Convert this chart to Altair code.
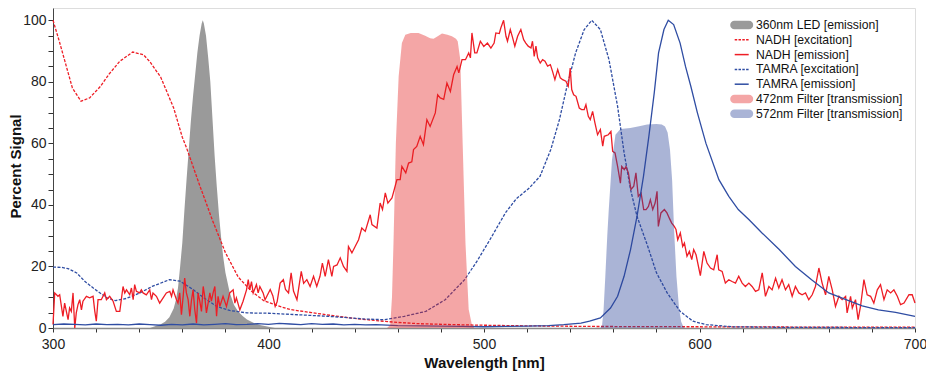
import altair as alt
import pandas as pd

LED = "360nm LED [emission]"
NEX = "NADH [excitation]"
NEM = "NADH [emission]"
TEX = "TAMRA [excitation]"
TEM = "TAMRA [emission]"
F472 = "472nm Filter [transmission]"
F572 = "572nm Filter [transmission]"
series_order = [LED, NEX, NEM, TEX, TEM, F472, F572]
series_colors = ["#9a9a9a", "#ee1d25", "#ee1d25", "#2f4da3", "#2f4da3", "#e42121", "#2a4398"]
legend_kinds = ["area", "dash", "solid", "dash", "solid", "area", "area"]
legend_swatches = ["#9a9a9a", "#ee1d25", "#ee1d25", "#2f4da3", "#2f4da3", "#f4a6a6", "#aab4d6"]

# 360nm LED emission
led_wl = [345, 347, 350, 352, 354, 356, 357, 358, 359, 360, 361, 362, 363, 364, 365, 366, 367, 368, 369, 369.5,
          370, 371, 372, 373, 374, 375, 376, 377, 378, 379, 380, 382, 384, 386, 388, 390, 393, 396, 400, 403]
led_val = [0, 0.5, 1.2, 2, 3.5, 6.3, 9, 13, 20, 27.6, 38.5, 48.5, 58, 67.5, 75.5, 82.5, 89.5, 95, 99, 100,
           99, 95, 88, 80, 68, 56, 46, 37, 29.5, 23, 18, 11.5, 7.5, 5.3, 3.9, 2.8, 1.7, 1, 0.4, 0]

# NADH excitation
nadh_ex_wl = [300, 303, 306, 309, 313, 317, 322, 326, 331, 337, 342, 345, 350, 356, 360, 362, 368, 374, 380, 386,
              392, 398, 404, 410, 420, 430, 440, 450, 460, 470, 485, 500, 520, 550, 600, 650, 700]
nadh_ex_val = [100, 93, 85.5, 78, 73.7, 74.8, 78.5, 82.5, 86.7, 89.7, 88.8, 86.5, 81.5, 71.5, 62, 58.5, 46.5, 35,
               24.5, 16.5, 12, 8.8, 7.3, 6, 5, 4, 3.1, 2.4, 1.8, 1.4, 1.1, 0.9, 0.7, 0.5, 0.4, 0.3, 0.3]

# NADH emission
nadh_em_wl = [300.0, 300.8, 302.3, 303.1, 304.6, 305.4, 307.0, 307.7, 308.5, 309.3, 310.1, 310.8, 311.6, 312.4,
              313.2, 313.9, 315.5, 317.0, 318.6, 319.4, 320.1, 320.9, 322.4, 324.0, 324.8, 326.3, 327.9, 329.4,
              331.0, 332.5, 333.3, 334.1, 335.6, 336.4, 337.2, 337.9, 338.7, 340.2, 341.0, 341.8, 343.3, 344.9,
              345.7, 346.4, 348.0, 349.5, 351.1, 352.6, 354.2, 355.0, 355.7, 357.3, 358.0, 358.8, 359.6, 360.4,
              361.1, 361.9, 362.7, 363.5, 364.2, 365.0, 365.8, 366.6, 367.3, 368.1, 368.9, 369.7, 370.4, 371.2,
              372.8, 373.5, 374.3, 375.1, 375.9, 376.6, 377.4, 378.9, 380.5, 382.0, 383.6, 384.4, 385.1, 386.7,
              388.2, 389.8, 390.6, 391.3, 392.1, 392.9, 394.4, 395.2, 396.0, 397.5, 398.4, 400.8, 402.0, 403.1,
              404.0, 405.4, 406.9, 407.9, 409.3, 410.5, 411.6, 413.2, 415.2, 416.3, 417.8, 419.3, 420.9, 422.4,
              423.9, 425.0, 426.3, 427.8, 429.4, 430.2, 431.8, 433.3, 434.8, 436.4, 437.1, 438.7, 440.2, 441.8,
              443.3, 444.9, 447.2, 448.0, 450.3, 451.8, 452.9, 454.2, 455.4, 457.3, 459.6, 461.1, 461.9, 463.7,
              465.0, 466.5, 467.3, 468.8, 470.4, 471.9, 473.5, 475.0, 477.4, 478.5, 479.7, 481.3, 482.8, 484.4,
              485.9, 487.5, 488.3, 489.8, 491.4, 492.9, 493.7, 494.4, 495.7, 496.7, 498.3, 499.9, 501.6, 503.2,
              504.7, 505.5, 507.1, 507.8, 509.1, 510.2, 510.9, 512.2, 513.3, 514.3, 515.6, 517.1, 518.4, 519.4,
              520.5, 521.8, 522.5, 523.3, 524.1, 524.9, 526.1, 527.2, 528.3, 529.5, 530.8, 531.8, 532.9, 534.2,
              535.4, 536.5, 538.0, 539.1, 540.0, 540.7, 541.6, 542.7, 544.2, 545.3, 546.5, 547.3, 548.4, 549.3,
              550.4, 551.5, 552.7, 554.0, 555.1, 555.8, 557.7, 558.9, 559.7, 560.8, 562.0, 563.3, 563.9, 565.1,
              565.9, 567.0, 568.2, 569.5, 570.5, 571.6, 572.9, 574.1, 575.2, 576.3, 577.2, 578.3, 579.4, 580.3,
              580.9, 582.1, 583.7, 584.9, 586.0, 587.1, 588.3, 589.1, 589.9, 591.1, 592.2, 593.0, 594.2, 595.3,
              596.4, 597.3, 598.4, 600.4, 602.0, 603.5, 605.1, 606.6, 608.2, 608.9, 610.5, 612.0, 613.6, 615.1,
              616.7, 618.2, 619.8, 621.3, 622.9, 624.4, 626.0, 627.5, 629.1, 630.6, 632.2, 633.7, 635.3, 636.8,
              638.3, 639.9, 641.4, 643.0, 644.5, 646.1, 647.6, 649.2, 650.7, 652.3, 653.8, 655.4, 656.9, 658.5,
              660.0, 661.6, 663.1, 664.7, 666.2, 667.8, 668.5, 670.1, 670.9, 672.4, 673.6, 674.7, 676.3, 677.8,
              679.4, 680.9, 682.5, 684.0, 685.6, 687.1, 688.7, 690.2, 691.8, 693.3, 694.9, 697.2, 698.7, 700.0]
nadh_em_val = [1.1, 11.4, 10.3, 10.8, 3.8, 8.1, 2.7, 6.5, 5.4, 11.4, 0, 4.9, 7.6, 9.2,
               5.9, 8.7, 10.3, 9.8, 10.3, 5.4, 2.2, 9.2, 9.2, 11.4, 9.2, 10.3, 8.7, 5.4,
               5.4, 13.5, 11.4, 12.4, 10.8, 13.0, 9.2, 14.1, 11.9, 11.4, 12.4, 11.4, 10.8, 12.4,
               9.2, 11.4, 10.3, 8.1, 9.8, 11.4, 11.9, 10.3, 12.4, 9.2, 8.1, 11.4, 4.3, 10.3,
               16.2, 11.4, 9.2, 3.8, 8.7, 12.4, 5.9, 1.6, 11.4, 8.7, 5.4, 13.5, 10.3, 4.9,
               11.4, 8.7, 11.4, 13.5, 3.8, 10.3, 7.0, 10.3, 7.0, 11.4, 12.4, 8.1, 9.8, 5.9,
               8.7, 12.4, 15.7, 12.4, 15.1, 11.4, 14.1, 11.4, 13.5, 11.4, 9.2, 12.5, 10.5, 7.0,
               8.5, 14.6, 15.7, 12.5, 11.4, 17.9, 12.0, 9.2, 18.4, 14.5, 15.7, 13.5, 16.8, 13.5,
               16.8, 21.1, 16.8, 22.2, 16.8, 20.0, 20.5, 22.8, 20.0, 18.4, 26.5, 24.4, 26.5, 28.7,
               32.5, 31.4, 36.8, 33.6, 32.5, 40.6, 38.5, 43.9, 40.6, 42.3, 48.2, 48.2, 52.5, 50.4,
               53.6, 54.0, 58.0, 59.0, 62.3, 59.6, 67.7, 65.5, 69.9, 75.8, 74.8, 74.3, 79.6, 76.9,
               82.3, 85.0, 82.9, 87.2, 87.2, 89.4, 87.8, 95.9, 89.4, 89.4, 93.2, 91.5, 92.6, 91.0,
               92.6, 95.9, 95.7, 97.5, 100.0, 94.8, 93.2, 97.0, 94.3, 91.6, 94.8, 97.0, 93.7, 92.6,
               91.6, 91.0, 93.2, 88.3, 91.6, 87.8, 86.1, 87.2, 86.7, 85.1, 85.6, 83.4, 80.7, 84.0,
               81.3, 80.7, 80.2, 78.6, 84.5, 77.5, 75.8, 75.3, 71.5, 71.0, 71.0, 72.6, 68.8, 67.7,
               70.4, 66.6, 62.8, 64.5, 59.1, 62.3, 62.8, 63.9, 57.4, 56.9, 52.5, 47.1, 52.5, 51.5,
               52.5, 50.4, 45.0, 46.1, 50.4, 42.8, 43.9, 38.5, 38.5, 39.5, 41.7, 38.5, 40.6, 44.4,
               33.0, 37.4, 38.5, 37.4, 35.7, 34.1, 33.0, 32.0, 28.7, 30.9, 26.5, 27.6, 23.3, 24.9,
               22.2, 25.5, 23.8, 17.0, 24.9, 21.1, 19.5, 18.9, 23.8, 18.9, 18.4, 14.6, 15.7, 15.1,
               14.6, 16.8, 14.6, 13.5, 14.6, 13.5, 11.9, 12.4, 17.9, 10.3, 13.5, 12.4, 16.2, 13.0,
               15.7, 12.4, 14.1, 10.3, 13.5, 11.4, 10.8, 11.4, 9.2, 10.8, 13.5, 19.5, 14.6, 10.8,
               16.8, 12.4, 7.0, 10.3, 9.2, 10.3, 4.9, 10.3, 6.5, 9.2, 2.7, 7.0, 15.7, 10.8,
               10.3, 8.1, 12.4, 14.1, 9.2, 12.4, 11.4, 12.4, 10.3, 7.6, 8.1, 10.8, 10.8, 8.1]

# TAMRA excitation
tamra_ex_wl = [300, 304, 307, 311, 315, 320, 325, 329, 334, 340, 346, 354, 359, 365, 370, 376, 382, 390, 400,
               414, 430, 445, 454, 463, 473, 482, 491, 497, 503, 510, 515, 521, 526, 531, 535, 538.5, 542.5,
               546.5, 550, 554, 558, 562, 565, 568, 571, 576, 580, 585, 591, 597, 603, 615, 640, 700]
tamra_ex_val = [19.8, 19.7, 19.3, 17.9, 15, 12.3, 9.8, 8.9, 9.6, 11.3, 13.5, 15.7, 15.2, 12.5, 9.8, 7, 5.7,
                4.9, 4.8, 4.3, 3.7, 2.9, 2.7, 3.8, 5.4, 9.2, 15.7, 22, 29, 37.5, 42, 45.5, 49.3, 58, 67.7,
                78.5, 89.4, 97, 100, 97, 87.2, 72, 57, 45, 36.3, 26.5, 18, 11.4, 5.4, 2.2, 1.1, 0.4, 0.2, 0.1]

# TAMRA emission
tamra_em_wl = [300, 305, 310, 315, 320, 325, 330, 335, 340, 345, 350, 355, 360, 365, 370, 375, 380, 385, 390,
               395, 400, 405, 410, 415, 420, 425, 430, 435, 440, 445, 450, 460, 470, 480, 490, 500, 510, 520,
               530, 537, 545, 549, 554, 558.7, 562, 565, 568, 571, 574, 576.5, 579, 581, 583.5, 585.5, 588,
               591, 593.5, 596, 599, 603, 609, 613.6, 618, 623, 629, 637, 644.5, 652, 660, 668, 675.5, 683,
               691, 700]
tamra_em_val = [1.1, 1.3, 1.2, 1.0, 1.3, 1.1, 1.2, 1.0, 1.3, 1.1, 0.9, 1.2, 1.0, 1.3, 1.0, 1.2, 1.4, 1.1, 1.2,
                1.4, 1.2, 1.5, 1.3, 1.1, 1.4, 1.2, 1.3, 1.0, 1.2, 1.0, 1.1, 0.8, 0.7, 0.6, 0.5, 0.4, 0.5, 0.6,
                0.8, 1.1, 1.6, 2.2, 3.3, 6.5, 10.3, 16.8, 25.5, 36.3, 49.3, 62.3, 76.4, 89.4, 97, 100, 98.6,
                92.6, 85, 78.5, 70, 60, 48.2, 42.8, 38.5, 35.2, 30.9, 25.5, 20, 15.7, 11.4, 9.2, 7.2, 5.9,
                5.1, 3.8]

# 472nm filter
f472_wl = [455, 456.5, 457.3, 458, 459.1, 460.4, 461.9, 463.5, 466, 469.6, 472.7, 475, 476.6, 478.5, 480.5,
           483, 485.1, 487, 487.8, 489, 490.1, 491.4, 492.9, 494.4, 495.5]
f472_val = [0, 1, 10, 27.6, 60, 81.8, 92.6, 95.3, 95.9, 95.9, 95, 94.2, 94, 94.8, 95.7,
            95.3, 94.8, 94, 93.2, 87.2, 60, 27.6, 6, 1, 0]

# 572nm filter
f572_wl = [554, 554.8, 555.5, 556.3, 557.2, 557.9, 559.4, 561, 563.3, 567.9, 572, 575.7, 580, 582.5, 584,
           585.2, 586.3, 587.3, 588.2, 589.3, 590.5, 591.5, 592.5, 593]
f572_val = [0, 1, 6, 16.8, 30, 38.5, 54.7, 62.8, 64.7, 65, 65.6, 66.1, 66.3, 66.1, 65.5,
            63.5, 58, 48, 32, 16.8, 6.5, 2, 0.4, 0]


def frame(wl, val, name):
    return pd.DataFrame({"wl": wl, "v": val, "series": name})


df_led = frame(led_wl, led_val, LED)
df_dash = pd.concat([frame(nadh_ex_wl, nadh_ex_val, NEX), frame(tamra_ex_wl, tamra_ex_val, TEX)])
df_solid = pd.concat([frame(nadh_em_wl, nadh_em_val, NEM), frame(tamra_em_wl, tamra_em_val, TEM)])
df_filt = pd.concat([frame(f472_wl, f472_val, F472), frame(f572_wl, f572_val, F572)])
df_leg = pd.DataFrame({"name": series_order, "kind": legend_kinds, "sw": legend_swatches,
                       "idx": list(range(len(series_order)))})

FONT = "Liberation Sans"

color = alt.Color("series:N", scale=alt.Scale(domain=series_order, range=series_colors), legend=None)

x_enc = alt.X(
    "wl:Q",
    scale=alt.Scale(domain=[300, 700], nice=False, zero=False),
    axis=alt.Axis(
        values=list(range(300, 701, 20)),
        labelExpr="datum.value % 100 == 0 ? datum.label : ''",
        title="Wavelength [nm]", titleFont=FONT, titleFontSize=15, titleFontWeight="bold", titleColor="#111111",
        titleX=431, titleY=39, titleBaseline="alphabetic", titleAlign="center",
        labelFont=FONT, labelFontSize=14, labelColor="#222222", labelPadding=5, labelFlush=False,
        labelOverlap=False, tickSize=4, tickColor="#333333", domainColor="#8a8a8a", domainWidth=1.5,
        grid=False,
    ),
)
y_enc = alt.Y(
    "v:Q",
    stack=None,
    scale=alt.Scale(domain=[0, 104], nice=False, zero=True),
    axis=alt.Axis(
        values=list(range(0, 101, 5)),
        labelExpr="datum.value % 20 == 0 ? datum.label : ''",
        title="Percent Signal", titleFont=FONT, titleFontSize=15, titleFontWeight="bold", titleColor="#111111",
        titleX=-32.5, titleY=158, titleAngle=-90, titleBaseline="alphabetic", titleAlign="center",
        labelFont=FONT, labelFontSize=14, labelColor="#222222", labelPadding=2, labelFlush=False,
        labelOverlap=False, tickSize=5, tickColor="#333333", domainColor="#444444", domainWidth=1,
        grid=False,
    ),
)

led_layer = alt.Chart(df_led).mark_area(opacity=1).encode(x=x_enc, y=y_enc, color=color)
dash_layer = alt.Chart(df_dash).mark_line(strokeDash=[3, 1.5], strokeWidth=1.3).encode(x=x_enc, y=y_enc, color=color)
solid_layer = alt.Chart(df_solid).mark_line(strokeWidth=1.3).encode(x=x_enc, y=y_enc, color=color)
filt_layer = alt.Chart(df_filt).mark_area(opacity=0.4).encode(x=x_enc, y=y_enc, color=color)

# manual legend (pixel positions inside the plot area)
leg_base = alt.Chart(df_leg).transform_calculate(ly="17 + datum.idx * 14.8")
leg_y = alt.Y("ly:Q", scale=None, axis=None)
pill = "M-0.63,-0.37L0.63,-0.37A0.37,0.37,0,0,1,0.63,0.37L-0.63,0.37A0.37,0.37,0,0,1,-0.63,-0.37Z"
leg_area = leg_base.transform_filter("datum.kind == 'area'").mark_point(
    shape=pill, filled=True, size=529, opacity=1, strokeWidth=0
).encode(x=alt.value(688.7), y=leg_y, fill=alt.Fill("sw:N", scale=None))
leg_dash = leg_base.transform_filter("datum.kind == 'dash'").mark_rule(
    strokeDash=[2.5, 1.3], strokeWidth=1.5
).encode(x=alt.value(681.7), x2=alt.value(695.7), y=leg_y, stroke=alt.Stroke("sw:N", scale=None))
leg_solid = leg_base.transform_filter("datum.kind == 'solid'").mark_rule(
    strokeWidth=1.5
).encode(x=alt.value(681.7), x2=alt.value(695.7), y=leg_y, stroke=alt.Stroke("sw:N", scale=None))
leg_text = leg_base.mark_text(
    align="left", baseline="middle", font=FONT, fontSize=12.2, color="#111111"
).encode(x=alt.value(703), y=leg_y, text="name:N")

chart = (
    alt.layer(led_layer, dash_layer, solid_layer, filt_layer, leg_area, leg_dash, leg_solid, leg_text)
    .properties(width=862, height=320, autosize="none",
                padding={"left": 45, "top": 0, "right": 11, "bottom": 45})
    .configure_view(stroke=None)
    .configure(background="white")
)

chart.save("out.html", embed_options={"renderer": "svg", "actions": False})
